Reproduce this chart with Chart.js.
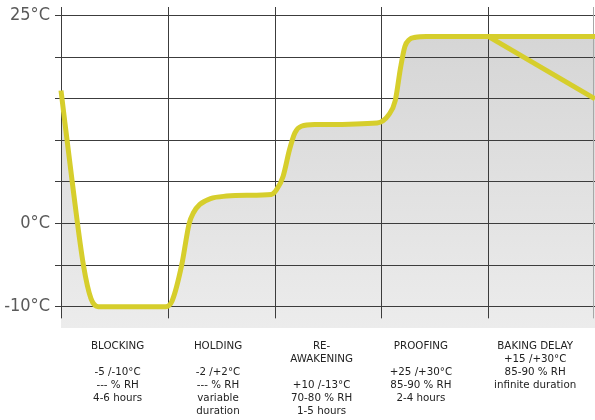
<!DOCTYPE html>
<html><head><meta charset="utf-8">
<script src="https://cdn.jsdelivr.net/npm/chart.js@4"></script>
<style>html,body{margin:0;padding:0;background:#fff}#wrap{width:595px;height:420px}</style>
</head>
<body><div id="wrap"><canvas id="c" width="595" height="420"></canvas></div>
<script>
// Phase columns (x = phase index, boundaries at integers)
const phaseBounds = [0, 1, 2, 3, 4, 5];
const phaseLabelX = [0.53, 1.47, 2.44, 3.37, 4.44];
const phaseLines = [
  ['BLOCKING', '', '-5 /-10°C', '--- % RH', '4-6 hours'],
  ['HOLDING', '', '-2 /+2°C', '--- % RH', 'variable', 'duration'],
  ['RE-', 'AWAKENING', '', '+10 /-13°C', '70-80 % RH', '1-5 hours'],
  ['PROOFING', '', '+25 /+30°C', '85-90 % RH', '2-4 hours'],
  ['BAKING DELAY', '+15 /+30°C', '85-90 % RH', 'infinite duration']
];
// Main temperature curve (°C)
const timeX    = [0, 0.11, 0.21, 0.28, 0.35, 0.98, 1.04, 1.13, 1.2, 1.24, 1.3, 1.4, 1.55, 1.74, 1.97, 2.02, 2.08, 2.14, 2.19, 2.25, 2.38, 2.96, 3.07, 3.13, 3.18, 3.22, 3.26, 3.32, 3.42, 5];
const tempMain = [16, 4.5, -5, -9, -10, -10, -9.3, -5, 0, 1.3, 2.3, 3.0, 3.3, 3.4, 3.5, 4.1, 5.7, 8.9, 10.9, 11.7, 11.9, 12.1, 13.1, 14.8, 18.8, 21.3, 22.1, 22.4, 22.5, 22.5];
// Baking delay alternative branch
const delayX    = [4, 5];
const delayTemp = [22.5, 15];
// Y axis
const gridTemps    = [-10, -5, 0, 5, 10, 15, 20, 25];
const labeledTemps = [-10, 0, 25];
const labeledText  = ['-10°C', '0°C', '25°C'];

const lineColor = '#d6ce2c';
const pts = (xs, ys) => xs.map((x, i) => ({x, y: ys[i]}));

const vgrid = {
  id: 'vgrid',
  beforeDatasetsDraw(chart) {
    const {ctx, chartArea} = chart;
    const xs = chart.scales.x, ys = chart.scales.y;
    const yEnd = ys.getPixelForValue(-11.4);
    ctx.save();
    ctx.lineWidth = 1;
    phaseBounds.forEach((b, i) => {
      let px = Math.round(xs.getPixelForValue(b)) + 0.5;
      if (px > chartArea.right) px = chartArea.right - 1.5;
      ctx.strokeStyle = i === phaseBounds.length - 1 ? '#a8a8a8' : '#3c3c3c';
      ctx.beginPath();
      ctx.moveTo(px, chartArea.top);
      ctx.lineTo(px, yEnd);
      ctx.stroke();
    });
    ctx.restore();
  }
};

new Chart(document.getElementById('c'), {
  type: 'line',
  data: {
    datasets: [
      {
        data: pts(timeX, tempMain),
        borderColor: lineColor,
        borderWidth: 5,
        pointRadius: 0,
        cubicInterpolationMode: 'monotone',
        fill: 'start',
        clip: 6,
        backgroundColor: (c) => {
          const a = c.chart.chartArea;
          if (!a) return '#dddddd';
          const g = c.chart.ctx.createLinearGradient(0, a.top, 0, a.bottom);
          g.addColorStop(0, '#d3d3d3');
          g.addColorStop(1, '#ececec');
          return g;
        }
      },
      {
        data: pts(delayX, delayTemp),
        borderColor: lineColor,
        borderWidth: 5,
        pointRadius: 0,
        tension: 0,
        fill: false,
        clip: 6
      }
    ]
  },
  options: {
    responsive: false,
    animation: false,
    layout: {padding: {top: 7, right: 0, left: 0, bottom: 0}},
    plugins: {legend: {display: false}, tooltip: {enabled: false}, filler: {drawTime: 'beforeDraw'}},
    scales: {
      x: {
        type: 'linear', min: 0, max: 5,
        afterBuildTicks: s => { s.ticks = phaseLabelX.map(v => ({value: v})); },
        afterFit: s => { s.height = 92; s.paddingLeft = 0; s.paddingRight = 0; },
        grid: {display: false, drawTicks: false},
        border: {display: false},
        ticks: {
          autoSkip: false, maxRotation: 0, minRotation: 0, padding: 11.5,
          color: '#222',
          font: {family: "'DejaVu Sans', Verdana, sans-serif", size: 10.3, lineHeight: 1.26},
          callback: (v, i) => phaseLines[i]
        }
      },
      y: {
        type: 'linear', min: -12.56, max: 26.04,
        afterBuildTicks: s => { s.ticks = gridTemps.map(v => ({value: v})); },
        afterFit: s => { s.width = 61; s.paddingTop = 0; s.paddingBottom = 0; },
        grid: {color: '#3c3c3c', lineWidth: 1, tickLength: 6, drawTicks: true},
        border: {display: false},
        ticks: {
          padding: 5, color: '#5a5a5a',
          font: {family: "'Liberation Sans Narrow', 'DejaVu Sans Condensed', sans-serif", size: 18},
          callback: v => { const i = labeledTemps.indexOf(v); return i >= 0 ? labeledText[i] : ''; }
        }
      }
    }
  },
  plugins: [vgrid]
});
</script>
</body></html>
